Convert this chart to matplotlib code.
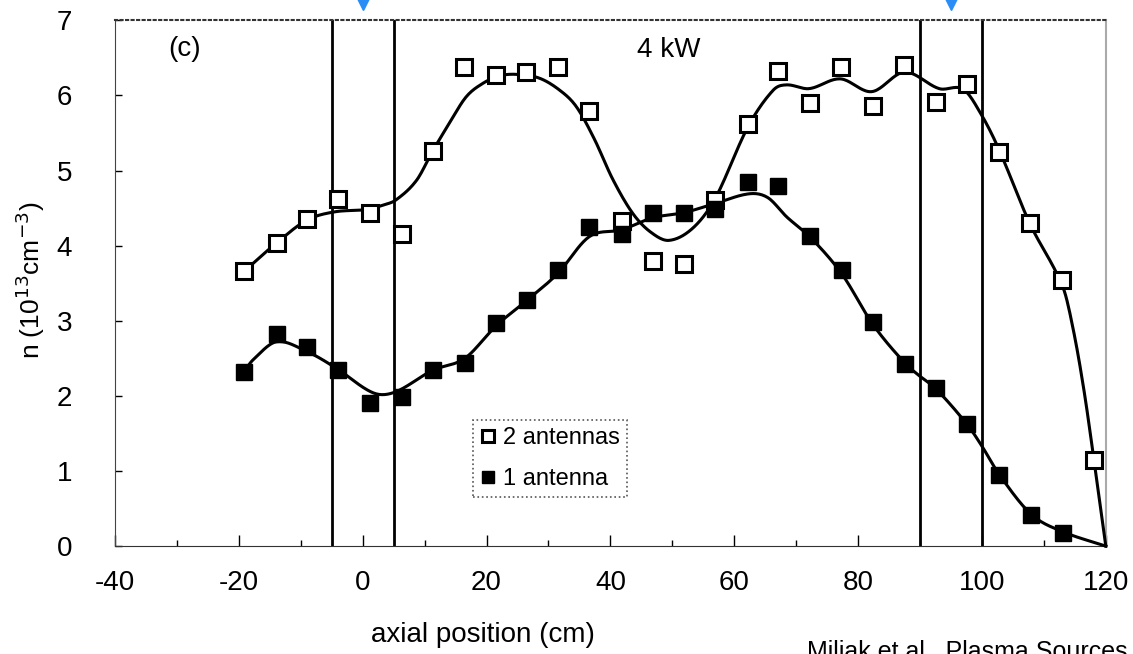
import numpy as np
import matplotlib
matplotlib.use('Agg')
import matplotlib.pyplot as plt
import matplotlib.transforms as mtransforms

plt.rcParams['font.family'] = ['Liberation Sans', 'DejaVu Sans']
plt.rcParams['axes.unicode_minus'] = False

# measured density, two antennas (open squares)
posTwo = [-19.1, -13.9, -9.0, -4.0, 1.1, 6.4, 11.3, 16.4, 21.5, 26.4, 31.6,
          36.6, 41.8, 46.8, 51.9, 56.9, 62.2, 67.1, 72.3, 77.3, 82.4, 87.4,
          92.6, 97.6, 102.7, 107.7, 112.9, 118.1]
nTwo = [3.66, 4.03, 4.36, 4.62, 4.43, 4.16, 5.26, 6.38, 6.27, 6.31, 6.38,
        5.79, 4.33, 3.80, 3.75, 4.61, 5.62, 6.33, 5.90, 6.38, 5.86, 6.40,
        5.91, 6.15, 5.25, 4.30, 3.54, 1.14]

# measured density, one antenna (filled squares)
posOne = [-19.2, -13.9, -9.0, -4.0, 1.1, 6.4, 11.3, 16.5, 21.5, 26.5, 31.5,
          36.6, 41.8, 46.8, 51.9, 56.9, 62.2, 67.1, 72.3, 77.4, 82.4, 87.5,
          92.6, 97.6, 102.8, 108.0, 113.1]
nOne = [2.32, 2.82, 2.65, 2.34, 1.91, 1.99, 2.34, 2.44, 2.97, 3.27, 3.68,
        4.25, 4.16, 4.44, 4.44, 4.49, 4.85, 4.80, 4.13, 3.67, 2.98, 2.42,
        2.11, 1.62, 0.95, 0.42, 0.17]

# knots of the smoothed fit curves
fitTwoX = [-19.1, -14.0, -9.0, -4.5, 0.6, 3.3, 5.4, 8.7, 11.3, 14.0, 16.7,
           19.4, 22.1, 24.8, 28.5, 31.8, 34.5, 37.4, 40.4, 43.6, 46.5, 49.5,
           53.4, 57.0, 62.2, 66.3, 68.5, 72.1, 77.1, 82.2, 87.5, 93.1, 97.0,
           100.0, 102.8, 107.7, 113.1, 114.8, 116.5, 118.1, 120.0]
fitTwoY = [3.66, 4.03, 4.34, 4.45, 4.48, 4.54, 4.61, 4.87, 5.26, 5.63, 5.98,
           6.16, 6.26, 6.28, 6.23, 6.07, 5.85, 5.42, 4.88, 4.43, 4.18, 4.07,
           4.24, 4.64, 5.58, 6.07, 6.14, 6.09, 6.22, 6.05, 6.31, 6.09, 6.08,
           5.73, 5.27, 4.30, 3.44, 2.86, 2.06, 1.14, 0.0]

fitOneX = [-19.2, -17.7, -13.9, -9.0, -4.3, 1.7, 5.2, 11.3, 16.5, 21.5, 26.5,
           31.5, 36.6, 41.8, 46.8, 51.9, 56.9, 62.4, 65.4, 68.5, 72.3, 77.4,
           82.4, 87.5, 89.7, 92.6, 97.6, 100.0, 102.8, 108.0, 113.1, 120.0]
fitOneY = [2.32, 2.48, 2.72, 2.59, 2.37, 2.04, 2.05, 2.34, 2.50, 2.93, 3.27,
           3.63, 4.12, 4.21, 4.37, 4.44, 4.56, 4.69, 4.64, 4.38, 4.11, 3.62,
           2.95, 2.44, 2.28, 2.09, 1.62, 1.33, 0.95, 0.42, 0.19, 0.0]

# antenna edges and antenna centres (cm)
antennaEdges = [-5, 5, 90, 100]
antennaCentres = [0, 95]


def smooth(xk, yk, num=600):
    # cubic Hermite through the knots, slopes from neighbouring knots
    xk = np.asarray(xk, float)
    yk = np.asarray(yk, float)
    m = np.empty_like(yk)
    m[1:-1] = (yk[2:] - yk[:-2]) / (xk[2:] - xk[:-2])
    m[0] = (yk[1] - yk[0]) / (xk[1] - xk[0])
    m[-1] = (yk[-1] - yk[-2]) / (xk[-1] - xk[-2])
    xs = np.linspace(xk[0], xk[-1], num)
    idx = np.clip(np.searchsorted(xk, xs) - 1, 0, len(xk) - 2)
    h = xk[idx + 1] - xk[idx]
    t = (xs - xk[idx]) / h
    h00 = 2 * t**3 - 3 * t**2 + 1
    h10 = t**3 - 2 * t**2 + t
    h01 = -2 * t**3 + 3 * t**2
    h11 = t**3 - t**2
    ys = (h00 * yk[idx] + h10 * h * m[idx] + h01 * yk[idx + 1]
          + h11 * h * m[idx + 1])
    return xs, ys


fig = plt.figure(figsize=(11.33, 6.54), dpi=100)
ax = fig.add_axes([0.1015, 0.165, 0.8745, 0.804])

for xe in antennaEdges:
    ax.axvline(xe, color='black', lw=2.0, zorder=2)

xs, ys = smooth(fitTwoX, fitTwoY)
ax.plot(xs, ys, color='black', lw=2.2, zorder=3, clip_on=False)
xs, ys = smooth(fitOneX, fitOneY)
ax.plot(xs, ys, color='black', lw=2.2, zorder=3, clip_on=False)

ax.plot(posTwo, nTwo, linestyle='none', marker='s', ms=11, mfc='white',
        mec='black', mew=2.2, zorder=4, label='2 antennas')
ax.plot(posOne, nOne, linestyle='none', marker='s', ms=11, mfc='black',
        mec='black', mew=1, zorder=4, label='1 antenna')

ax.set_xlim(-40, 120)
ax.set_ylim(0, 7)
ax.set_xticks(np.arange(-40, 121, 20))
ax.set_xticks(np.arange(-30, 120, 20), minor=True)
ax.set_yticks(np.arange(0, 8, 1))
ax.tick_params(axis='both', which='both', direction='in', labelsize=20,
               top=False, right=False)
ax.tick_params(axis='x', which='major', length=8, width=1, pad=17)
ax.tick_params(axis='x', which='minor', length=4, width=1)
ax.tick_params(axis='y', which='major', length=5, width=1, pad=31)

ax.spines['left'].set_color('#444444')
ax.spines['bottom'].set_color('#333333')
ax.spines['top'].set_linestyle(':')
ax.spines['top'].set_color('#333333')
ax.spines['top'].set_linewidth(1.5)
ax.spines['right'].set_color('#aaaaaa')
ax.spines['right'].set_linewidth(1.5)

ax.text(-28.7, 6.62, '(c)', fontsize=20, ha='center', va='center')
ax.text(49.4, 6.6, '4 kW', fontsize=20, ha='center', va='center')

leg = ax.legend(loc='upper left', bbox_to_anchor=(0.361, 0.2395),
                fontsize=17, markerscale=0.75, handlelength=0.7,
                handletextpad=0.3, labelspacing=0.8, borderpad=0.3,
                borderaxespad=0, fancybox=False, edgecolor='#555555',
                framealpha=1)
leg.get_frame().set_linestyle(':')
leg.get_frame().set_linewidth(1.2)

fig.text(0.027, 0.572, r'n (10$^{13}$cm$^{-3}$)', fontsize=19, rotation=90,
         ha='center', va='center')
fig.text(0.426, 0.029, 'axial position (cm)', fontsize=20, ha='center',
         va='center')
fig.text(807 / 1133, 1 - 640 / 654,
         'Miljak et al., Plasma Sources Sci. Technol.', fontsize=18,
         ha='left', va='top')

# arrows marking the antenna centres at the top edge
trans = mtransforms.blended_transform_factory(ax.transData, fig.transFigure)
ax.plot(antennaCentres, [1 - 4 / 654] * len(antennaCentres), linestyle='none',
        marker='v', ms=8, color='#2a8df5', transform=trans, clip_on=False)

fig.savefig('out.png', dpi=100)
